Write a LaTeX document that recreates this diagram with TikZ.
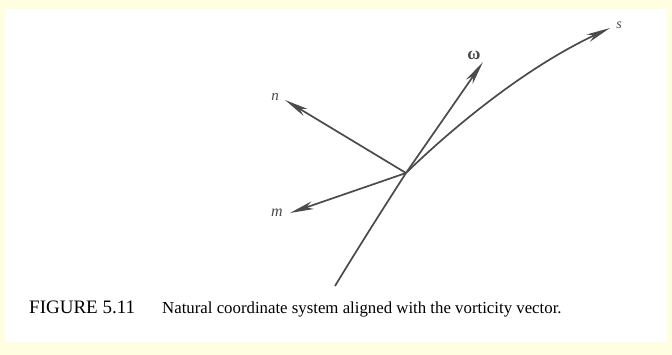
\documentclass[tikz,border=0pt]{standalone}
\usepackage{amsmath}
\usepackage{fontspec}
\setmainfont{Liberation Serif}
\usetikzlibrary{arrows.meta}
\definecolor{scanyellow}{RGB}{255,254,225}
\definecolor{inkgray}{RGB}{75,75,75}
\begin{document}
\begin{tikzpicture}[x=1pt, y=-1pt,
  vec/.style={line width=1.7pt, inkgray,
    -{Stealth[length=24pt, width=8pt, inset=7pt]}},
  axlbl/.style={inner sep=1pt, text=inkgray}]
%
% ---- Page ----
\useasboundingbox (0,0) rectangle (672,355);
\fill[scanyellow] (0,0) rectangle (672,355);
\fill[white] (5,9) rectangle (667,342);
%
% ---- Points ----
\coordinate (O) at (406,173);
\coordinate (base) at (335,286);
\coordinate (nTip) at (285,100);
\coordinate (mTip) at (290,213);
\coordinate (wTip) at (483,62);
\coordinate (sTip) at (610,28);
%
% ---- Labels ----
\node[axlbl, font=\fontsize{15}{17}\selectfont\itshape] (n) at (275,97) {n};
\node[axlbl, font=\fontsize{16}{18}\selectfont\itshape] (m) at (277,213) {m};
\node[axlbl, font=\fontsize{14}{16}\selectfont\itshape] (s) at (619,25) {s};
\node[axlbl, font=\fontsize{18}{20}\selectfont\bfseries] (w) at (474,55) {ω};
%
% ---- Streamline s ----
\draw[vec] (base) .. controls (358,248) and (386,204) .. (O)
  .. controls (445,135) and (520,70) .. (sTip);
%
% ---- Vectors ----
\draw[vec] (O) -- (nTip);
\draw[vec] (O) -- (mTip);
\draw[vec] (O) -- (wTip);
%
% ---- Caption ----
\node[anchor=base west, inner sep=0pt, font=\fontsize{19}{22}\selectfont]
  (fig) at (29,313) {FIGURE 5.11};
\node[anchor=base west, inner sep=0pt, font=\fontsize{16.8}{20}\selectfont]
  (cap) at (162,313) {Natural coordinate system aligned with the vorticity vector.};
\end{tikzpicture}
\end{document}
